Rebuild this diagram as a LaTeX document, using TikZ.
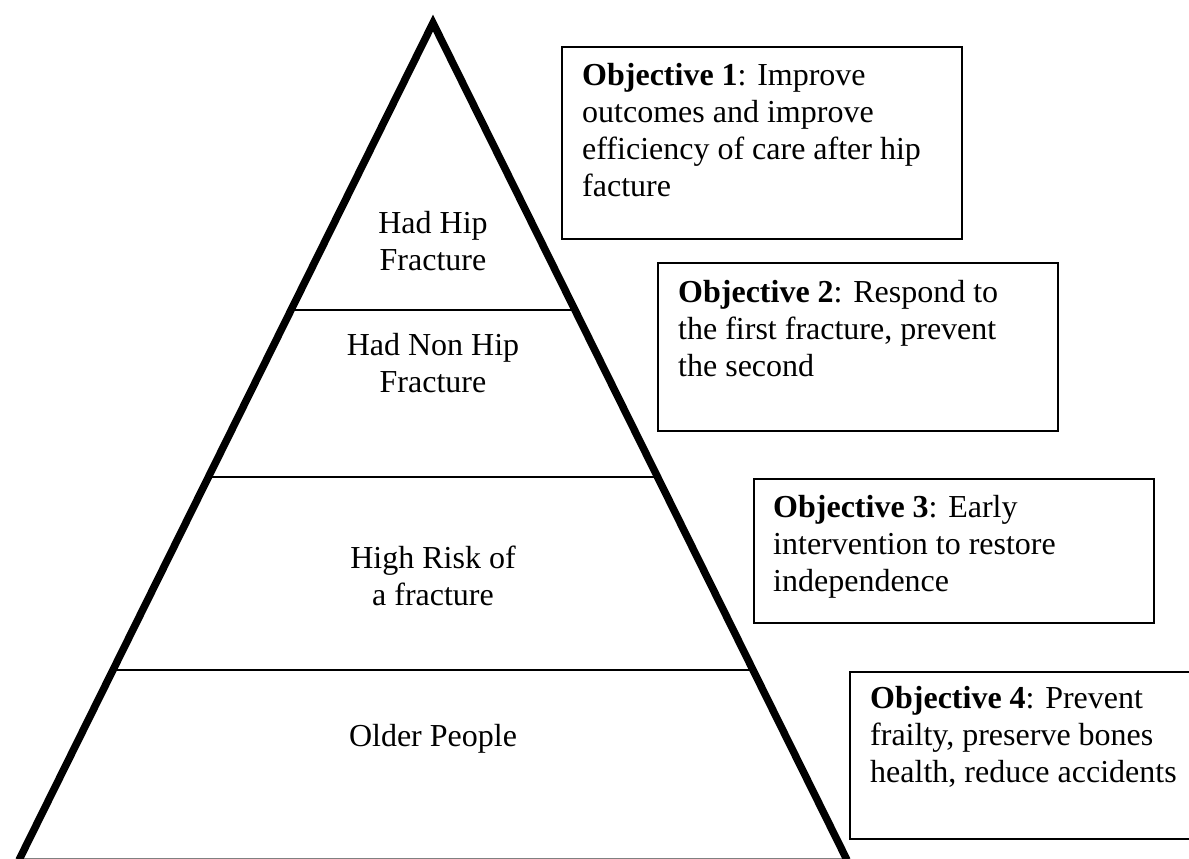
\documentclass[tikz,border=0pt]{standalone}
\usepackage{fontspec}
\setmainfont{Liberation Serif}
\usetikzlibrary{positioning,calc}

\begin{document}
\begin{tikzpicture}[
    x=1pt, y=-1pt,
    leg/.style={line width=7.5pt, line join=miter},
    tier/.style={line width=1.5pt},
    layer/.style={align=center, inner sep=0pt, font=\fontsize{32}{37}\selectfont},
    objbox/.style={rectangle, draw=black, line width=2pt, anchor=north west, minimum width=400pt},
    objtext/.style={align=left, inner sep=0pt, font=\fontsize{32}{37}\selectfont}
]
\useasboundingbox (0,0) rectangle (1189,859);

% Pyramid outline
\coordinate (apex) at (433,23);
\coordinate (bl) at (19,860);
\coordinate (br) at (847,860);

% Tiers
\coordinate (t1l) at ($(apex)!0.3429!(bl)$);
\coordinate (t1r) at ($(apex)!0.3429!(br)$);
\coordinate (t2l) at ($(apex)!0.5424!(bl)$);
\coordinate (t2r) at ($(apex)!0.5424!(br)$);
\coordinate (t3l) at ($(apex)!0.7730!(bl)$);
\coordinate (t3r) at ($(apex)!0.7730!(br)$);
\coordinate (t4l) at ($(apex)!0.9976!(bl)$);
\coordinate (t4r) at ($(apex)!0.9976!(br)$);
\draw[tier] (t1l) -- (t1r);
\draw[tier] (t2l) -- (t2r);
\draw[tier] (t3l) -- (t3r);
\draw[line width=1pt, gray] (t4l) -- (t4r);
\draw[leg] (bl) -- (apex) -- (br);

% Layer labels
\node[layer] (hip) at (433,241) {Had Hip\\Fracture};
\node[layer] (nonhip) at (433,363) {Had Non Hip\\Fracture};
\node[layer] (risk) at (433,576) {High Risk of\\a fracture};
\node[layer] (older) at (433,739) {Older People};

% Objectives
\node[objbox, minimum height=192pt] (obj1) at (561,46) {};
\node[objtext, below right=17pt and 21pt of obj1.north west] (obj1txt)
    {\textbf{Objective 1}: Improve\\outcomes and improve\\efficiency of care after hip\\facture};

\node[objbox, minimum height=168pt] (obj2) at (657,262) {};
\node[objtext, below right=18pt and 21pt of obj2.north west] (obj2txt)
    {\textbf{Objective 2}: Respond to\\the first fracture, prevent\\the second};

\node[objbox, minimum height=144pt] (obj3) at (753,478) {};
\node[objtext, below right=17pt and 20pt of obj3.north west] (obj3txt)
    {\textbf{Objective 3}: Early\\intervention to restore\\independence};

\node[objbox, minimum height=167pt] (obj4) at (849,671) {};
\node[objtext, below right=15pt and 21pt of obj4.north west] (obj4txt)
    {\textbf{Objective 4}: Prevent\\frailty, preserve bones\\health, reduce accidents};

\end{tikzpicture}
\end{document}
